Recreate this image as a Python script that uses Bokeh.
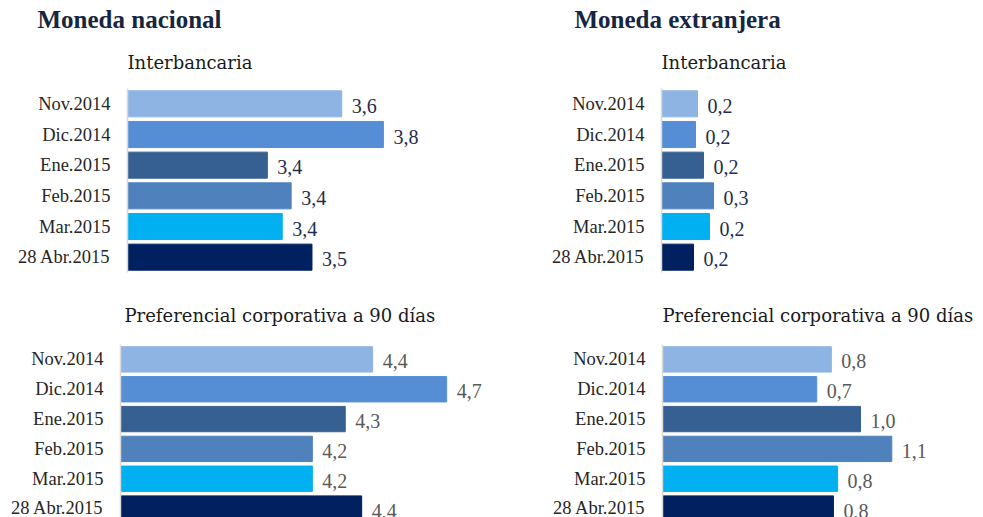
from bokeh.plotting import figure
from bokeh.models import Range1d, FixedTicker, Title, ColumnDataSource
from bokeh.layouts import row, column
from bokeh.embed import file_html
from bokeh.resources import INLINE
from bokeh.core.properties import value

# ---------------- data ----------------
months = ["Nov.2014", "Dic.2014", "Ene.2015", "Feb.2015", "Mar.2015", "28 Abr.2015"]
bar_colors = ["#8EB4E3", "#558ED5", "#376092", "#4F81BD", "#00B0F0", "#002060"]

# Moneda nacional - Interbancaria
mn_inter = [3.62, 3.76, 3.37, 3.45, 3.42, 3.52]
mn_inter_labels = ["3,6", "3,8", "3,4", "3,4", "3,4", "3,5"]
# Moneda nacional - Preferencial corporativa a 90 días
mn_pref = [4.42, 4.69, 4.32, 4.20, 4.20, 4.38]
mn_pref_labels = ["4,4", "4,7", "4,3", "4,2", "4,2", "4,4"]
# Moneda extranjera - Interbancaria
me_inter = [0.18, 0.17, 0.21, 0.26, 0.24, 0.16]
me_inter_labels = ["0,2", "0,2", "0,2", "0,3", "0,2", "0,2"]
# Moneda extranjera - Preferencial corporativa a 90 días
me_pref = [0.81, 0.74, 0.95, 1.10, 0.84, 0.82]
me_pref_labels = ["0,8", "0,7", "1,0", "1,1", "0,8", "0,8"]

SUB_FONT = "DejaVu Serif"
LAB_FONT = "Liberation Serif"


def panel(vals, labels, xmin, xmax, width, height, bl, bt, bb, yend,
          subtitle, sub_offset, sub_standoff, val_color,
          heading=None, head_offset=0, head_standoff=0):
    pos = list(range(len(months)))
    src = ColumnDataSource(dict(y=pos, v=vals, lab=labels, c=bar_colors))
    p = figure(width=width, height=height, output_backend="svg",
               toolbar_location=None, x_axis_location=None,
               x_range=Range1d(xmin, xmax), y_range=Range1d(yend, -0.5),
               min_border_left=bl, min_border_top=bt, min_border_bottom=bb,
               min_border_right=0)
    p.hbar(y="y", left=xmin, right="v", height=0.85, color="c", source=src)
    p.text(x="v", y="y", text="lab", source=src, x_offset=10, y_offset=2,
           text_baseline="middle", text_align="left",
           text_font=value(LAB_FONT), text_font_size="20px", text_color=val_color)
    p.grid.visible = False
    p.outline_line_color = None
    ax = p.yaxis[0]
    ax.ticker = FixedTicker(ticks=pos)
    ax.major_label_overrides = {i: m for i, m in enumerate(months)}
    ax.major_tick_line_color = None
    ax.minor_tick_line_color = None
    ax.major_tick_out = 0
    ax.major_label_standoff = 17
    ax.axis_line_color = "#D9D9D9"
    ax.axis_line_width = 1.5
    ax.major_label_text_font = LAB_FONT
    ax.major_label_text_font_size = "18.5px"
    ax.major_label_text_color = "#262626"
    p.add_layout(Title(text=subtitle, text_font=SUB_FONT, text_font_size="18px",
                       text_font_style="normal", text_color="#1A1A1A",
                       align="left", offset=sub_offset, standoff=sub_standoff), "above")
    if heading:
        p.add_layout(Title(text=heading, text_font=LAB_FONT, text_font_size="25px",
                           text_font_style="bold", text_color="#17263F",
                           align="left", offset=head_offset, standoff=head_standoff), "above")
    return p


tl = panel(mn_inter, mn_inter_labels, 2.9, 4.12, 490, 280, 127, 88, 8, 5.5,
           "Interbancaria", 0, 32, "#1F2D4D", "Moneda nacional", -90, 2)
bl = panel(mn_pref, mn_pref_labels, 3.5, 4.85, 490, 237, 120, 64, 0, 5.3,
           "Preferencial corporativa a 90 días", 4, 37, "#595959")
tr = panel(me_inter, me_inter_labels, 0.0, 1.61, 493, 280, 171, 88, 8, 5.5,
           "Interbancaria", 0, 32, "#1F2D4D", "Moneda extranjera", -87, 2)
br = panel(me_pref, me_pref_labels, 0.0, 1.54, 493, 237, 172, 64, 0, 5.3,
           "Preferencial corporativa a 90 días", 0, 37, "#595959")

layout = column(row(tl, tr), row(bl, br))
open("out.html", "w").write(file_html(layout, INLINE))
